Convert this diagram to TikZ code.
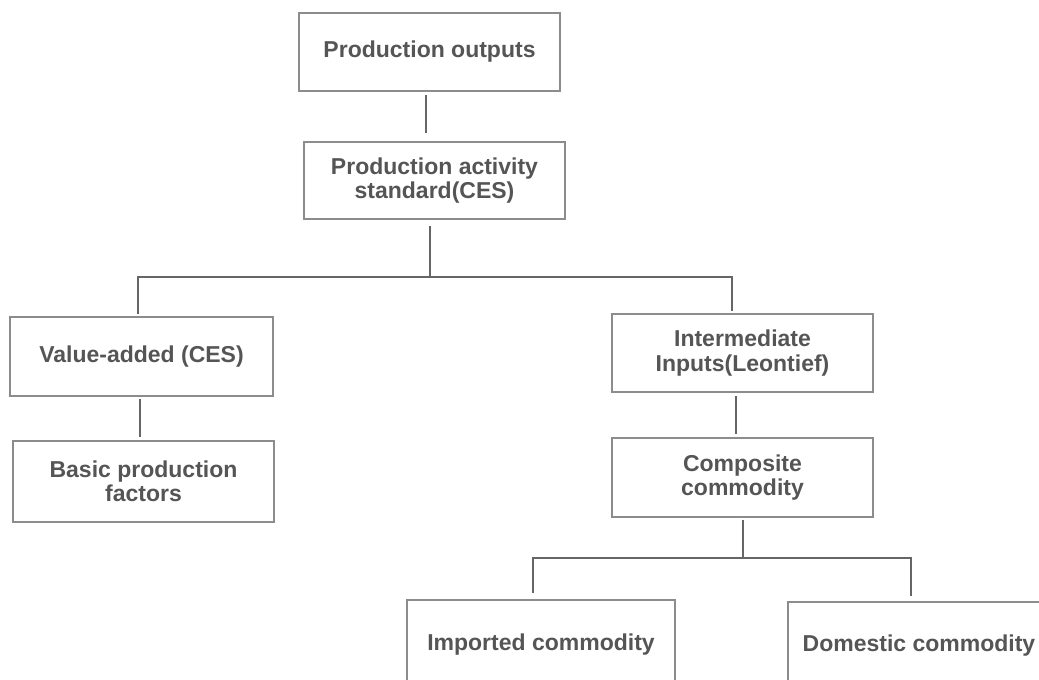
\documentclass[tikz,border=0pt]{standalone}
\usepackage{fontspec}
\setmainfont{Liberation Sans}
\usetikzlibrary{calc}
\definecolor{boxline}{HTML}{8C8C8C}
\definecolor{connline}{HTML}{666666}
\definecolor{txt}{HTML}{555555}
\tikzset{
  box/.style={draw=boxline, line width=1.5pt, fill=white, inner sep=0pt, align=center,
    text=txt, font=\fontsize{23}{24.5}\selectfont\bfseries},
  conn/.style={draw=connline, line width=1.5pt}
}
\begin{document}
\begin{tikzpicture}[x=1pt,y=-1pt]
\useasboundingbox[fill=white] (0,0) rectangle (1039,680);
% boxes
\node[box, minimum width=261pt, minimum height=78pt] (out) at (429.5,52) {Production outputs};
\node[box, minimum width=261pt, minimum height=77pt] (act) at (434.5,180.5) {Production activity\\standard(CES)};
\node[box, minimum width=263pt, minimum height=79pt] (va) at (141.5,356.5) {Value-added (CES)};
\node[box, minimum width=261pt, minimum height=81pt] (bpf) at (143.5,481.5) {Basic production\\factors};
\node[box, minimum width=261pt, minimum height=78pt] (ii) at (742.5,353) {Intermediate\\Inputs(Leontief)};
\node[box, minimum width=261pt, minimum height=79pt] (cc) at (742.5,477.5) {Composite\\commodity};
\node[box, minimum width=268pt, minimum height=90pt] (imp) at (541,645) {Imported commodity};
\node[box, minimum width=262pt, minimum height=88pt] (dom) at (919,646) {Domestic commodity};
% junction coordinates
\coordinate (j1) at (430,277);
\coordinate (j1L) at (138,277);
\coordinate (j1R) at (732,277);
\coordinate (j2) at (742,558);
\coordinate (j2L) at (533,558);
\coordinate (j2R) at (911,558);
\coordinate (x1) at (426,0);
\coordinate (x2) at (140,0);
\coordinate (x3) at (736,0);
\coordinate (x4) at (743,0);
% connectors
\draw[conn, shorten <=3pt, shorten >=8pt] (out.south -| x1) -- (act.north -| x1);
\draw[conn, shorten <=6pt] (act.south -| j1) -- (j1);
\draw[conn, shorten <=2pt, shorten >=2pt] (va.north -| j1L) -- (j1L) -- (j1R) -- (ii.north -| j1R);
\draw[conn, shorten <=2pt, shorten >=3pt] (va.south -| x2) -- (bpf.north -| x2);
\draw[conn, shorten <=3pt, shorten >=3pt] (ii.south -| x3) -- (cc.north -| x3);
\draw[conn, shorten <=2pt] (cc.south -| x4) -- (j2 -| x4);
\draw[conn, shorten <=6pt, shorten >=5pt] (imp.north -| j2L) -- (j2L) -- (j2R) -- (dom.north -| j2R);
\end{tikzpicture}
\end{document}
